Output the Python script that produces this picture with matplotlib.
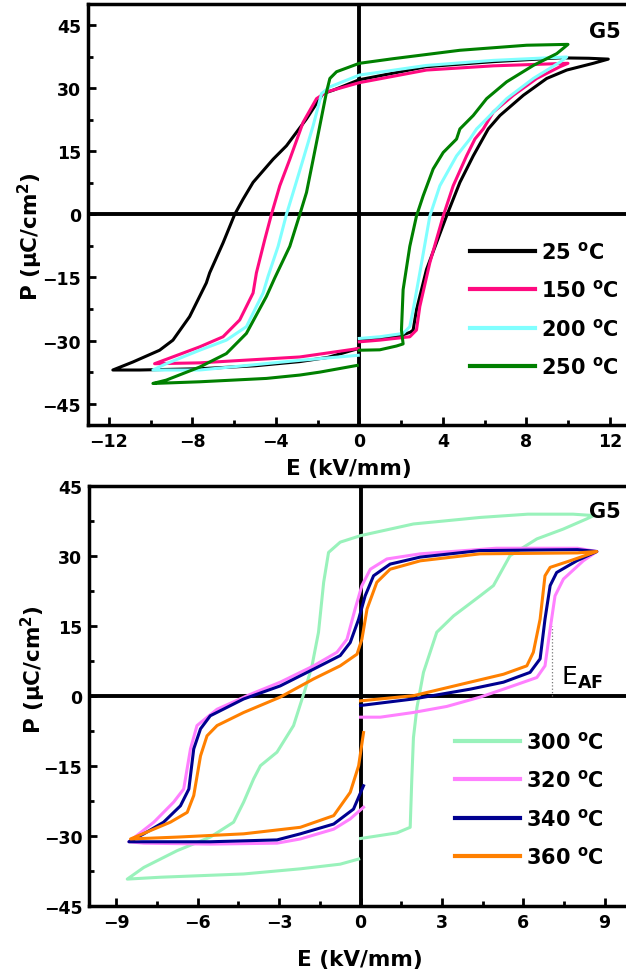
import matplotlib
matplotlib.use("Agg")
import matplotlib.pyplot as plt
from matplotlib.ticker import MultipleLocator

plt.rcParams['font.family'] = ['DejaVu Sans']
plt.rcParams['font.weight'] = 'bold'
plt.rcParams['mathtext.fontset'] = 'dejavusans'

# ---------------- data: top panel (G5, 25-250 C) ----------------
E_25 = [0, 1.0, 2.0, 2.45, 2.58, 2.74, 3.22, 4.18, 4.82, 5.46, 6.18, 6.74, 7.86, 8.98, 9.94, 11.21, 11.93,
        11.0, 9.62, 6.42, 3.22, 0, -1.26, -1.74, -2.53, -3.49, -4.13, -5.09, -5.57, -5.97, -6.53, -7.17, -7.33,
        -8.13, -8.93, -9.57, -10.85, -11.81,
        -10.53, -7.65, -5.0, -2.85, -1.5, -0.05]
P_25 = [-30.0, -29.5, -28.8, -28.0, -27.5, -22.7, -13.1, -0.4, 7.6, 13.9, 20.3, 23.5, 28.3, 32.3, 34.3, 35.9, 36.9,
        37.1, 37.2, 36.3, 35.1, 32.0, 29.5, 28.7, 22.7, 16.3, 13.1, 7.6, 3.6, 0.0, -6.8, -13.9, -16.3,
        -24.3, -29.9, -32.3, -35.1, -37.0,
        -37.0, -36.7, -36.0, -35.0, -34.0, -31.9]

E_150 = [0, 0.98, 2.42, 2.74, 2.9, 3.38, 4.02, 4.5, 5.14, 5.54, 5.94, 6.42, 7.38, 8.5, 9.62, 10.0,
         9.94, 6.42, 3.22, 0, -1.57, -2.05, -2.69, -3.33, -3.81, -4.21, -4.53, -4.93, -5.09, -5.73, -6.53, -7.65, -9.81,
         -7.65, -2.85, -0.05]
P_150 = [-30.3, -29.9, -29.1, -27.5, -21.9, -11.5, -0.4, 6.8, 13.9, 17.9, 20.3, 24.3, 28.3, 32.3, 35.1, 35.9,
         35.9, 35.3, 34.3, 31.3, 29.1, 27.5, 21.9, 13.1, 6.8, 0.0, -6.0, -13.9, -18.7, -25.1, -29.1, -31.5, -35.5,
         -35.3, -33.9, -31.9]

E_200 = [0, 0.98, 2.1, 2.42, 2.58, 2.9, 3.38, 3.86, 4.66, 5.3, 5.62, 6.1, 7.06, 8.34, 9.62, 9.94,
         9.0, 6.42, 3.22, 0, -1.41, -1.81, -2.21, -2.69, -3.17, -3.49, -3.89, -4.37, -4.61, -5.41, -6.37, -7.65, -9.25, -9.89,
         -7.65, -2.85, -0.05]
P_200 = [-29.5, -29.1, -28.3, -26.7, -22.7, -13.9, -0.4, 6.8, 13.9, 17.9, 20.3, 22.7, 27.5, 32.3, 36.2, 37.4,
         37.2, 36.6, 35.4, 33.1, 30.3, 28.7, 21.1, 13.1, 5.2, 0.0, -7.6, -14.7, -18.7, -26.7, -29.9, -32.3, -35.5, -37.0,
         -37.0, -34.7, -33.5]

E_250 = [0, 0.98, 1.78, 2.1, 2.02, 2.1, 2.42, 2.74, 3.06, 3.54, 4.02, 4.66, 4.82, 5.46, 6.1, 7.06, 8.34, 9.46, 10.0,
         9.94, 8.02, 4.82, 1.62, 0, -1.09, -1.41, -1.57, -1.89, -2.21, -2.53, -2.85, -3.33, -4.05, -4.45, -5.41, -6.37,
         -7.65, -9.25, -9.89,
         -7.65, -4.45, -2.85, -1.89, -0.1]
P_250 = [-32.3, -32.2, -31.3, -30.8, -27.5, -17.9, -7.6, -0.4, 4.4, 10.8, 14.7, 17.9, 20.3, 23.5, 27.5, 31.5, 35.4, 38.2, 40.4,
         40.4, 40.2, 39.0, 37.0, 35.9, 33.9, 32.3, 29.1, 21.1, 13.1, 5.2, 0.0, -7.6, -15.1, -19.5, -28.3, -33.1,
         -36.3, -39.4, -40.2,
         -39.8, -39.0, -38.2, -37.5, -35.9]

# ---------------- data: bottom panel (G5, 300-360 C) ----------------
E_300 = [0, 1.34, 1.83, 1.89, 1.95, 2.08, 2.32, 2.81, 3.43, 4.41, 4.9, 5.51, 6.5, 7.47, 8.34, 8.6,
         7.83, 6.17, 4.41, 1.95, 0, -0.75, -1.18, -1.36, -1.55, -1.79, -2.04, -2.47, -3.08, -3.69, -3.94, -4.31,
         -4.68, -5.54, -6.76, -7.99, -8.6,
         -7.38, -4.31, -2.22, -0.75, -0.07]
P_300 = [-30.6, -29.4, -28.2, -17.8, -9.0, -2.5, 5.0, 13.6, 17.1, 21.4, 23.6, 30.0, 33.6, 35.7, 37.9, 38.6,
         38.9, 38.9, 38.2, 36.8, 34.3, 32.9, 30.7, 24.3, 13.6, 6.4, 1.4, -6.4, -12.1, -15.0, -17.8, -22.8,
         -27.1, -30.3, -33.2, -36.8, -39.3,
         -38.9, -38.2, -37.1, -36.1, -35.0]

E_320 = [0, 0.73, 1.94, 3.18, 4.41, 5.27, 6.5, 6.8, 6.99, 7.17, 7.48, 8.21, 8.71,
         8.0, 5.0, 2.2, 0.97, 0.36, 0.05, -0.2, -0.5, -0.87, -1.73, -2.96, -4.06, -5.29, -6.03, -6.27, -6.52, -6.89,
         -7.62, -8.54,
         -7.99, -5.54, -3.08, -2.22, -0.99, -0.38, 0.11]
P_320 = [-4.6, -4.6, -3.6, -2.3, -0.3, 1.4, 3.9, 6.4, 14.3, 21.4, 25.0, 28.9, 30.9,
         31.6, 31.6, 30.4, 29.3, 27.1, 23.6, 18.6, 12.1, 9.3, 6.4, 2.9, 0.3, -2.9, -6.4, -11.4, -20.0, -22.8,
         -27.1, -31.3,
         -31.6, -31.8, -31.6, -30.7, -28.6, -26.4, -23.9]

E_340 = [0, 1.95, 4.04, 5.27, 6.25, 6.62, 6.8, 6.99, 7.23, 7.97, 8.71,
         8.0, 4.41, 2.2, 1.09, 0.48, 0.17, -0.07, -0.38, -0.75, -1.73, -2.96, -4.31, -5.54, -5.9, -6.15, -6.33, -6.64,
         -7.26, -7.99, -8.54,
         -7.99, -5.54, -3.08, -2.22, -0.99, -0.26, 0.11]
P_340 = [-2.1, -0.7, 1.4, 2.9, 5.0, 7.9, 16.4, 23.6, 26.4, 28.9, 30.9,
         31.3, 31.1, 29.7, 28.2, 25.7, 21.4, 16.4, 11.4, 8.6, 5.7, 2.1, -0.7, -4.3, -7.1, -11.4, -20.0, -23.6,
         -27.1, -29.6, -31.3,
         -31.3, -31.3, -30.9, -29.6, -27.5, -24.3, -19.3]

E_360 = [0, 1.95, 4.04, 5.27, 6.13, 6.37, 6.62, 6.8, 6.99, 7.72, 8.71,
         8.0, 4.41, 2.2, 1.09, 0.6, 0.24, 0.05, -0.13, -0.75, -1.73, -2.96, -4.31, -5.29, -5.66, -5.9, -6.15, -6.39,
         -7.01, -8.48,
         -6.76, -4.31, -2.22, -0.99, -0.38, -0.07, 0.11]
P_360 = [-1.1, 0.0, 2.9, 4.6, 6.4, 9.3, 16.4, 25.7, 27.5, 28.9, 30.9,
         30.6, 30.4, 28.9, 27.1, 24.3, 18.6, 12.1, 8.9, 6.4, 3.6, -0.3, -3.6, -6.4, -8.6, -12.9, -21.4, -25.0,
         -27.1, -30.7,
         -30.3, -29.6, -28.2, -25.7, -20.7, -15.0, -7.9]

E_AF = 7.05
E_AF_top = 15.0

top_series = [("25 $^\\mathbf{o}$C", E_25, P_25, "#000000"),
              ("150 $^\\mathbf{o}$C", E_150, P_150, "#FF0A80"),
              ("200 $^\\mathbf{o}$C", E_200, P_200, "#80FFFF"),
              ("250 $^\\mathbf{o}$C", E_250, P_250, "#008000")]
bot_series = [("300 $^\\mathbf{o}$C", E_300, P_300, "#99F2BB"),
              ("320 $^\\mathbf{o}$C", E_320, P_320, "#FF80FF"),
              ("340 $^\\mathbf{o}$C", E_340, P_340, "#000090"),
              ("360 $^\\mathbf{o}$C", E_360, P_360, "#FF8000")]

W, H = 626, 979
fig = plt.figure(figsize=(W / 100, H / 100), dpi=100)

def px_axes(l, t, r, b):
    return fig.add_axes([l / W, 1 - b / H, (r - l) / W, (b - t) / H])

ax1 = px_axes(88, 5, 630.6, 425.7)
ax2 = px_axes(89.3, 486.7, 631.8, 906.7)

def style(ax, xlim, ylim, xmaj, xmin, ymaj, ymin):
    ax.set_xlim(*xlim)
    ax.set_ylim(*ylim)
    ax.xaxis.set_major_locator(MultipleLocator(xmaj))
    ax.xaxis.set_minor_locator(MultipleLocator(xmin))
    ax.yaxis.set_major_locator(MultipleLocator(ymaj))
    ax.yaxis.set_minor_locator(MultipleLocator(ymin))
    ax.tick_params(which='both', direction='in', width=2, top=False, right=False)
    ax.tick_params(which='major', length=6, labelsize=12.5, pad=5)
    ax.tick_params(which='minor', length=3.5)
    for lab in ax.get_xticklabels() + ax.get_yticklabels():
        lab.set_fontweight('bold')
    for s in ax.spines.values():
        s.set_linewidth(2.5)
    ax.axhline(0, color='k', lw=2.8, zorder=1.5)
    ax.axvline(0, color='k', lw=2.8, zorder=1.5)
    ax.set_xlabel("E (kV/mm)", fontsize=15.5, fontweight='bold')
    ax.set_ylabel("P (μC/cm$^\\mathbf{2}$)", fontsize=15.5, fontweight='bold')
    ax.xaxis.label.set_va('center')
    ax.yaxis.label.set_va('center')

style(ax1, (-13, 13), (-50, 50), 4, 2, 15, 7.5)
style(ax2, (-10, 10), (-45, 45), 3, 1.5, 15, 7.5)

for lab, E, P, c in top_series:
    ax1.plot(E, P, color=c, lw=2.2, label=lab, solid_joinstyle='round', zorder=2)
for lab, E, P, c in bot_series:
    ax2.plot(E, P, color=c, lw=2.2, label=lab, solid_joinstyle='round', zorder=2)

ax1.xaxis.set_label_coords((349 - 88) / 542.6, (425.7 - 469) / 420.7)
ax1.yaxis.set_label_coords((30 - 88) / 542.6, (425.7 - 237) / 420.7)
ax2.xaxis.set_label_coords((360 - 89.3) / 542.5, (906.7 - 960) / 420)
ax2.yaxis.set_label_coords((33 - 89.3) / 542.5, (906.7 - 670) / 420)

ax1.text((604.7 - 88) / 542.6, (425.7 - 32) / 420.7, "G5", transform=ax1.transAxes,
         ha='center', va='center', fontsize=15, fontweight='bold')
ax2.text((604.7 - 89.3) / 542.5, (906.7 - 512) / 420, "G5", transform=ax2.transAxes,
         ha='center', va='center', fontsize=15, fontweight='bold')

ax2.vlines(E_AF, 0, E_AF_top, colors='#777777', linestyles=':', lw=0.9, zorder=1.6)
ax2.text(7.4, 2.5, "E$_\\mathbf{AF}$", fontsize=18, fontweight='normal', va='baseline', ha='left')

leg1 = ax1.legend(loc='upper left', bbox_to_anchor=((470 - 88) / 542.6, (425.7 - 241.2) / 420.7),
                  frameon=False, fontsize=15, handlelength=3.1, handletextpad=0.3,
                  labelspacing=0.79, borderpad=0, borderaxespad=0)
leg2 = ax2.legend(loc='upper left', bbox_to_anchor=((455 - 89.3) / 542.5, (906.7 - 731.2) / 420),
                  frameon=False, fontsize=15, handlelength=3.1, handletextpad=0.3,
                  labelspacing=0.79, borderpad=0, borderaxespad=0)
for leg in (leg1, leg2):
    for t in leg.get_texts():
        t.set_fontweight('bold')
    for l in leg.get_lines():
        l.set_linewidth(3.0)

fig.savefig("out.png", dpi=100)
